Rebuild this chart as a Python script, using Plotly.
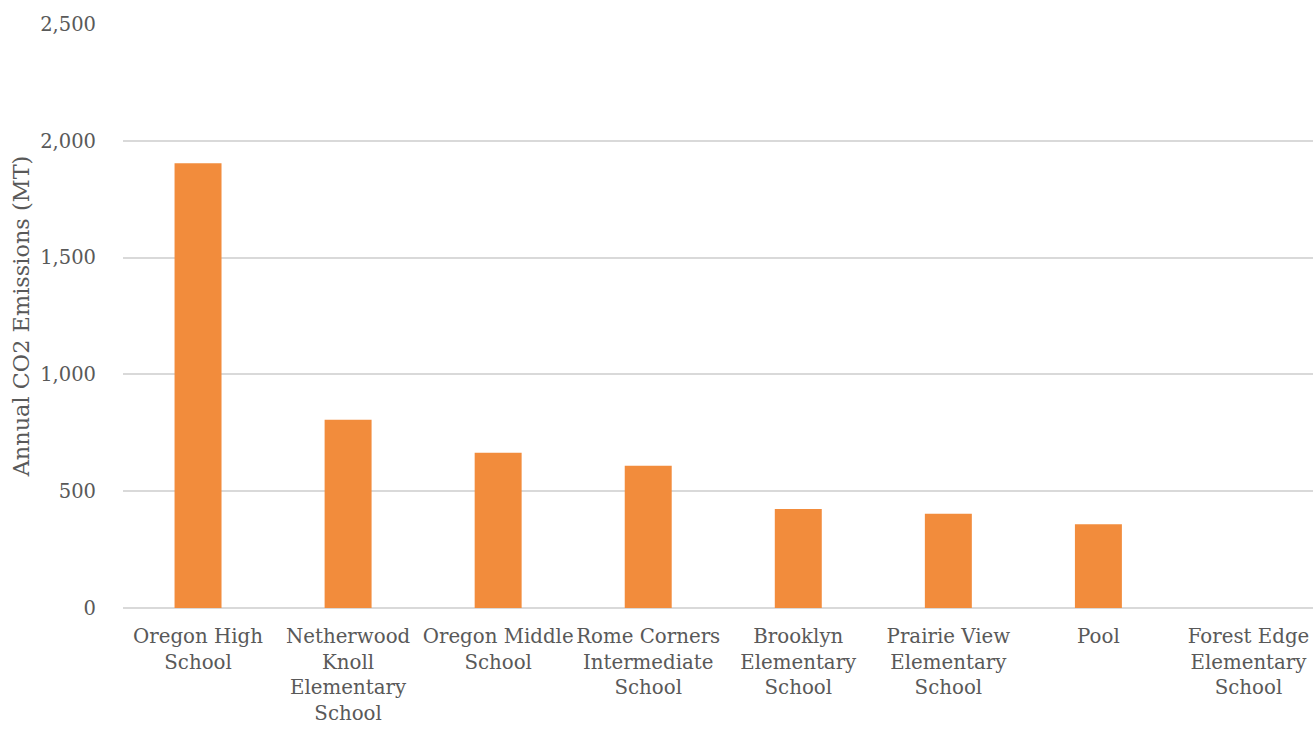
import plotly.graph_objects as go

categories = [
    "Oregon High<br>School",
    "Netherwood<br>Knoll<br>Elementary<br>School",
    "Oregon Middle<br>School",
    "Rome Corners<br>Intermediate<br>School",
    "Brooklyn<br>Elementary<br>School",
    "Prairie View<br>Elementary<br>School",
    "Pool",
    "Forest Edge<br>Elementary<br>School",
]
emissions = [1904, 806, 665, 609, 424, 404, 359, 0]
y_ticks = [0, 500, 1000, 1500, 2000, 2500]
y_tick_text = ["0", "500", "1,000", "1,500", "2,000", "2,500"]

FONT = "DejaVu Serif"
GREY = "#595959"

fig = go.Figure(
    go.Bar(
        x=categories,
        y=emissions,
        marker=dict(color="#F28C3C", line=dict(width=0)),
    )
)

fig.update_layout(
    width=1313,
    height=729,
    margin=dict(l=123, r=0, t=24, b=121, autoexpand=False),
    paper_bgcolor="white",
    plot_bgcolor="white",
    bargap=0.687,
    showlegend=False,
    font=dict(family=FONT, size=20, color=GREY),
)

fig.update_xaxes(
    range=[-0.5, 7.43],
    showgrid=False,
    showline=False,
    zeroline=False,
    automargin=False,
    tickfont=dict(family=FONT, size=19.8, color=GREY),
    tickangle=0,
    ticks="",
    ticklabelstandoff=14,
)

fig.update_yaxes(
    range=[0, 2500],
    tickvals=y_ticks,
    ticktext=y_tick_text,
    showgrid=True,
    gridcolor="#D9D9D9",
    gridwidth=1.5,
    zeroline=True,
    zerolinecolor="#D9D9D9",
    zerolinewidth=1.5,
    showline=False,
    automargin=False,
    ticks="",
    ticklabelstandoff=26,
    tickfont=dict(family=FONT, size=19.5, color=GREY),
    title=dict(
        text="Annual CO2 Emissions (MT)",
        font=dict(family=FONT, size=22.4, color=GREY),
        standoff=4,
    ),
)

fig.write_html("out.html")
